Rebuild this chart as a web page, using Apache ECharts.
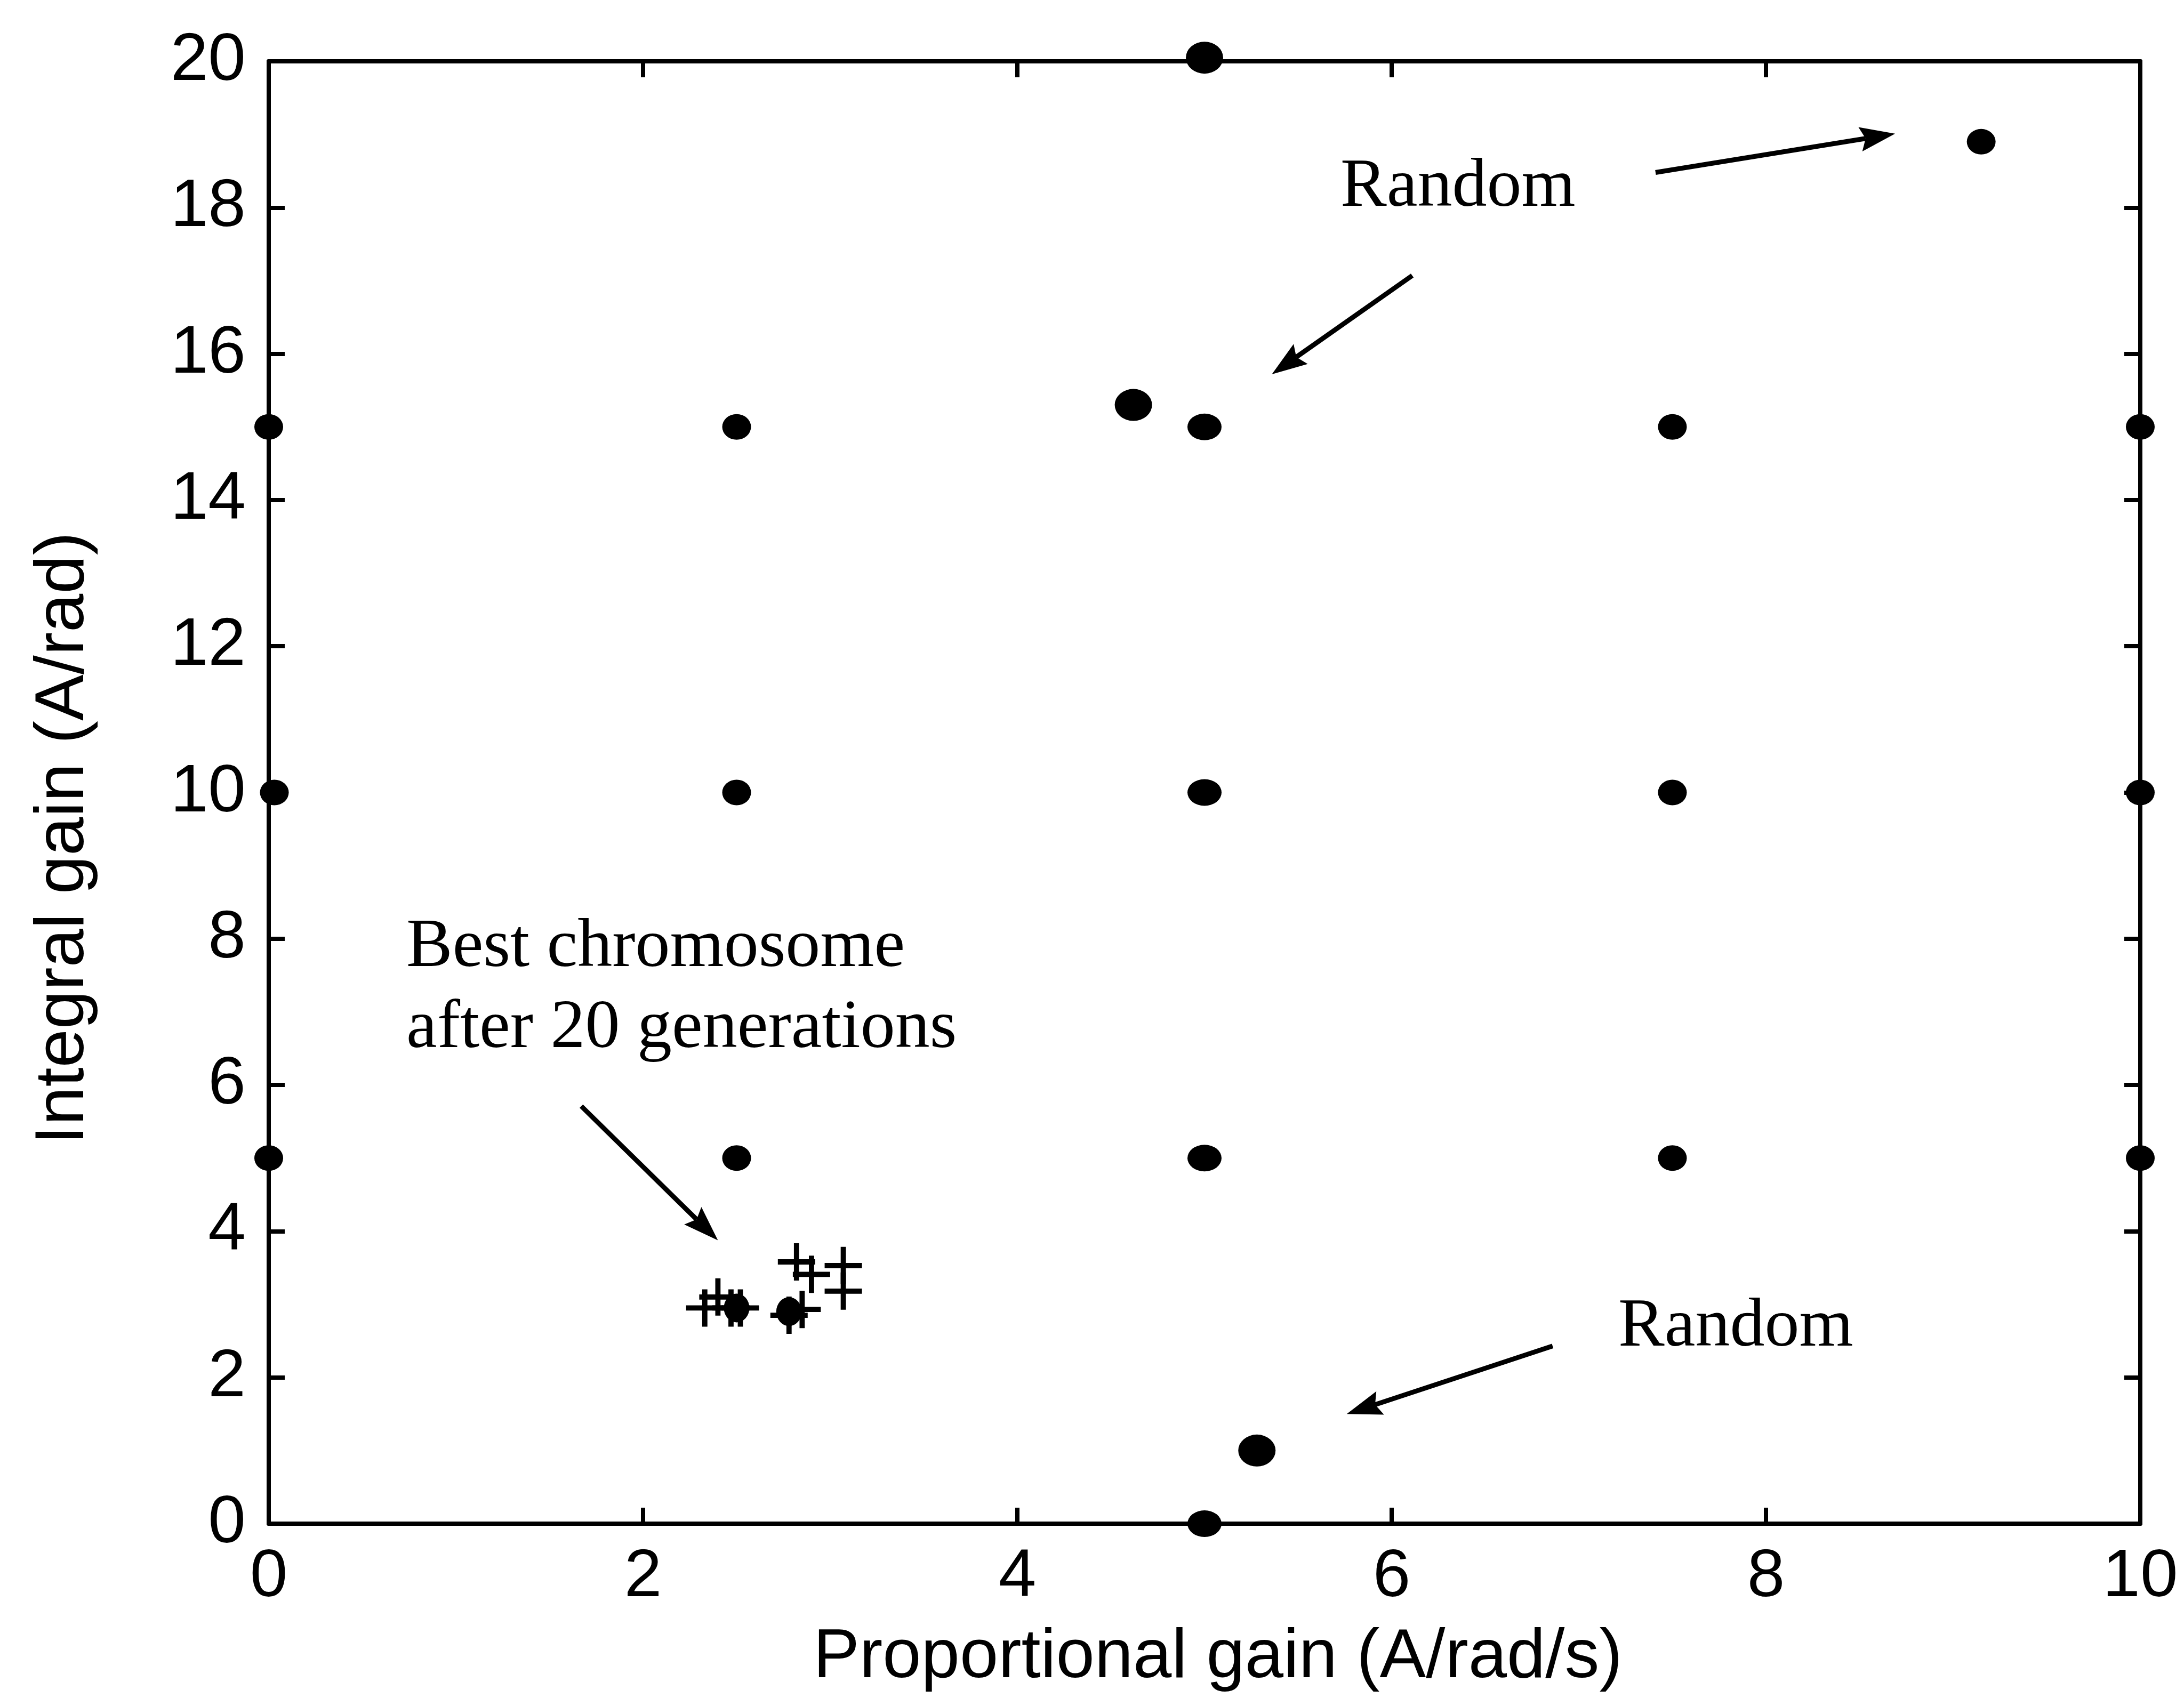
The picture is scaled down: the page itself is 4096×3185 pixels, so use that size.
<!DOCTYPE html>
<html>
<head>
<meta charset="utf-8">
<script src="https://cdn.jsdelivr.net/npm/echarts@6/dist/echarts.min.js"></script>
<style>
html,body{margin:0;padding:0;background:#fff;}
#c{width:4096px;height:3185px;}
</style>
</head>
<body>
<div id="c"></div>
<script>
// ---------- data ----------
const xTickValues = [0, 2, 4, 6, 8, 10];
const yTickValues = [0, 2, 4, 6, 8, 10, 12, 14, 16, 18, 20];

// initial population grid (regular dots)
const gridDotX = [0, 2.5, 7.5, 10, 0.03, 2.5, 7.5, 10, 0, 2.5, 7.5, 10, 9.15];
const gridDotY = [15, 15, 15, 15, 10, 10, 10, 10, 5, 5, 5, 5, 18.9];

// centre column dots (slightly wider)
const centreDotX = [5, 5, 5, 5];
const centreDotY = [15, 10, 5, 0];

// larger dots (incl. random chromosomes)
const largeDotX = [5, 4.62, 5.28];
const largeDotY = [20.05, 15.3, 1.0];

// best chromosome cluster: dots and pluses
const bestDotX = [2.5, 2.78];
const bestDotY = [2.95, 2.9];
const plusX = [2.33, 2.40, 2.47, 2.52, 2.78, 2.82, 2.85, 2.90, 3.07, 3.07];
const plusY = [2.95, 3.10, 2.95, 2.95, 2.85, 3.58, 2.93, 3.41, 3.53, 3.18];

// annotation arrows: [tail, tip] in data coordinates
const arrowTails = [[7.41, 18.48], [6.11, 17.07], [1.67, 5.71], [6.86, 2.43]];
const arrowTips  = [[8.69, 19.01], [5.36, 15.72], [2.40, 3.875], [5.76, 1.50]];

const xTitle = 'Proportional gain (A/rad/s)';
const yTitle = 'Integral gain (A/rad)';
const notes = ['Random', 'Best chromosome', 'after 20 generations', 'Random'];

// ---------- helpers ----------
const zip = (xs, ys) => xs.map((x, i) => [x, ys[i]]);
const PLUS = 'path://M43,0H57V43H100V57H57V100H43V57H0V43H43Z';
const SANS = '"Liberation Sans", Arial, sans-serif';
const SERIF = '"Liberation Serif", "Times New Roman", serif';
const LW = 8;
const BLACK = { color: '#000', opacity: 1 };

const axisCommon = {
  type: 'value',
  axisLine: { show: true, onZero: false, lineStyle: { color: '#000', width: LW } },
  axisTick: { show: true, inside: true, length: 30, lineStyle: { color: '#000', width: LW } },
  splitLine: { show: false },
};

const option = {
  animation: false,
  backgroundColor: '#fff',
  grid: { left: 504, right: 82, top: 115, bottom: 327, containLabel: false },
  xAxis: [
    Object.assign({}, axisCommon, {
      position: 'bottom', min: 0, max: 10, interval: 2,
      axisLabel: { show: true, margin: 37, color: '#000', fontSize: 127, fontFamily: SANS,
        formatter: v => xTickValues.includes(v) ? String(v) : '' },
      name: xTitle, nameLocation: 'middle', nameGap: 187,
      nameTextStyle: { color: '#000', fontSize: 130, fontFamily: SANS, padding: [0, 0, 0, 50] }
    }),
    Object.assign({}, axisCommon, {
      position: 'top', min: 0, max: 10, interval: 2, axisLabel: { show: false }
    })
  ],
  yAxis: [
    Object.assign({}, axisCommon, {
      position: 'left', min: 0, max: 20, interval: 2,
      axisLabel: { show: true, margin: 43, color: '#000', fontSize: 127, fontFamily: SANS,
        formatter: v => yTickValues.includes(v) ? String(v) : '' },
      name: yTitle, nameLocation: 'middle', nameGap: 319, nameRotate: 90,
      nameTextStyle: { color: '#000', fontSize: 130, fontFamily: SANS, padding: [0, 172, 0, 0] }
    }),
    Object.assign({}, axisCommon, {
      position: 'right', min: 0, max: 20, interval: 2, axisLabel: { show: false }
    })
  ],
  series: [
    { type: 'scatter', name: 'grid', data: zip(gridDotX, gridDotY), symbol: 'circle',
      symbolSize: [54, 48], itemStyle: BLACK, clip: false, z: 5 },
    { type: 'scatter', name: 'centre', data: zip(centreDotX, centreDotY), symbol: 'circle',
      symbolSize: [64, 50], itemStyle: BLACK, clip: false, z: 5 },
    { type: 'scatter', name: 'large', data: zip(largeDotX, largeDotY), symbol: 'circle',
      symbolSize: [70, 60], itemStyle: BLACK, clip: false, z: 5 },
    { type: 'scatter', name: 'bestDots', data: zip(bestDotX, bestDotY), symbol: 'circle',
      symbolSize: [48, 54], itemStyle: BLACK, clip: false, z: 5 },
    { type: 'scatter', name: 'best', data: zip(plusX, plusY), symbol: PLUS,
      symbolSize: 70, itemStyle: BLACK, clip: false, z: 6 }
  ]
};

const chart = echarts.init(document.getElementById('c'), null, { renderer: 'canvas' });
chart.setOption(option);

// ---------- annotations (arrows converted through the chart's scales) ----------
const elements = [];
const L = 66, W = 23, N = 10;
arrowTails.forEach((tail, i) => {
  const s = chart.convertToPixel({ xAxisIndex: 0, yAxisIndex: 0 }, tail);
  const t = chart.convertToPixel({ xAxisIndex: 0, yAxisIndex: 0 }, arrowTips[i]);
  const dx = t[0] - s[0], dy = t[1] - s[1];
  const len = Math.hypot(dx, dy);
  const ux = dx / len, uy = dy / len;
  const nx = -uy, ny = ux;
  const back = [t[0] - (L - N) * ux, t[1] - (L - N) * uy];
  elements.push({
    type: 'line', z: 10,
    shape: { x1: s[0], y1: s[1], x2: back[0], y2: back[1] },
    style: { stroke: '#000', lineWidth: 9 }
  });
  elements.push({
    type: 'polygon', z: 10,
    shape: { points: [
      t,
      [t[0] - L * ux + W * nx, t[1] - L * uy + W * ny],
      back,
      [t[0] - L * ux - W * nx, t[1] - L * uy - W * ny]
    ] },
    style: { fill: '#000' }
  });
});

const notePos = [[2514, 352], [762, 1778], [762, 1930], [3035, 2490]];
notes.forEach((txt, i) => {
  elements.push({
    type: 'text', z: 10, x: notePos[i][0], y: notePos[i][1],
    style: { text: txt, fill: '#000', fontSize: 130, fontFamily: SERIF,
      align: 'left', verticalAlign: 'middle' }
  });
});

chart.setOption({ graphic: { elements: elements } });
</script>
</body>
</html>
